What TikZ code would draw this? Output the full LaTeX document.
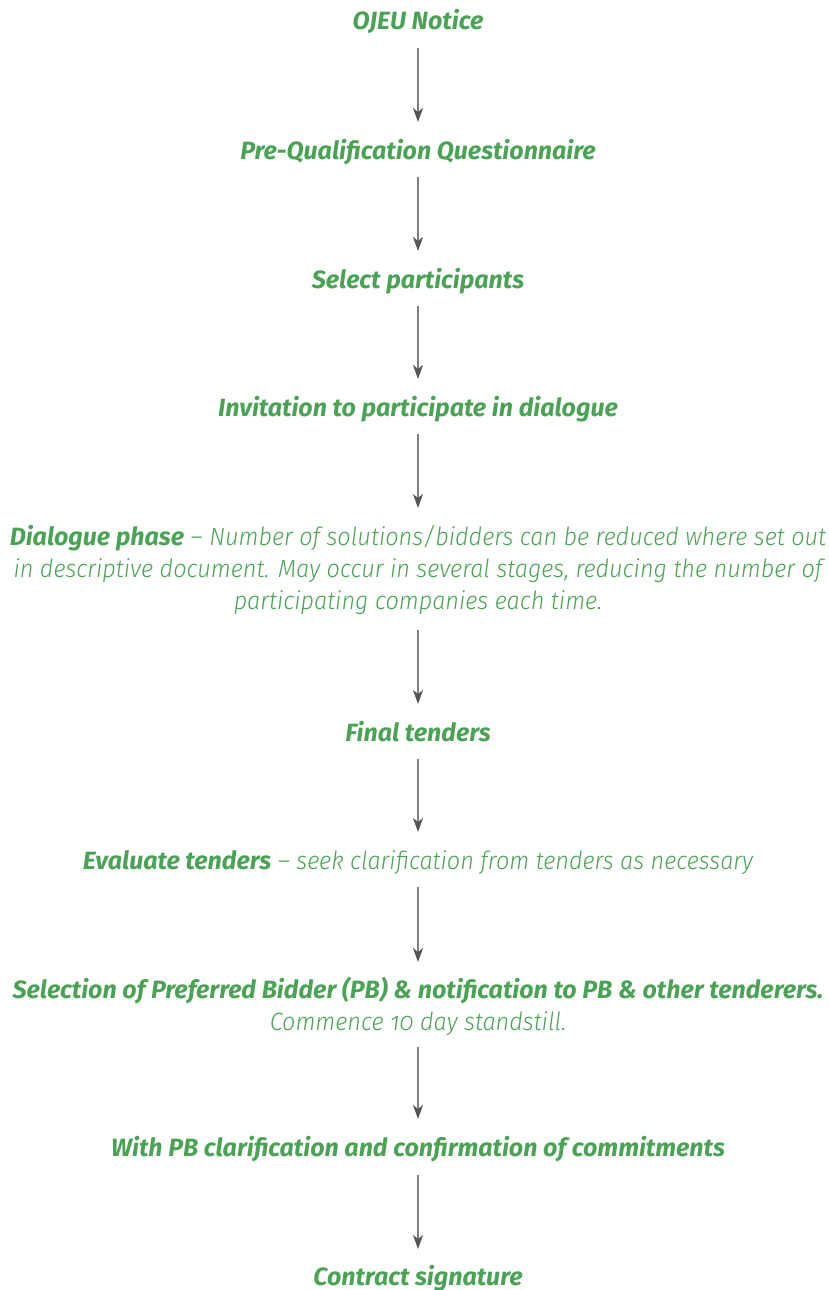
\documentclass[tikz,border=0pt]{standalone}
\usepackage{fontspec}
\setmainfont{Fira Sans}[Numbers=OldStyle]
\newfontfamily\bfit{Fira Sans Bold Italic}[Numbers=OldStyle]
\newfontfamily\ltit{Fira Sans Light Italic}[FakeStretch=0.94,Numbers=OldStyle]
\usetikzlibrary{arrows.meta}
\definecolor{leaf}{RGB}{74,163,84}
\definecolor{shaft}{RGB}{128,128,130}
\definecolor{tipc}{RGB}{85,85,90}
\tikzset{
  stage/.style={text=leaf, inner sep=0pt, anchor=base, align=center, font=\fontsize{25}{32}\selectfont},
  arr/.style={draw=shaft, line width=1.4pt, -{Stealth[length=14pt,width=10pt,inset=4pt,color=tipc]}}
}
\newcommand{\bpart}[1]{{\bfit #1}}
\newcommand{\lpart}[1]{{\ltit #1}}
\begin{document}
\begin{tikzpicture}[x=1pt,y=-1pt]
\useasboundingbox (0,0) rectangle (829,1290);
\node[stage] (n1) at (418,30) {\bpart{OJEU Notice}};
\node[stage] (n2) at (418,159) {\bpart{Pre-Qualification Questionnaire}};
\node[stage] (n3) at (418,288) {\bpart{Select participants}};
\node[stage] (n4) at (418,416) {\bpart{Invitation to participate in dialogue}};
\node[stage] (n5) at (418,609) {\bpart{Dialogue phase} \lpart{– Number of solutions/bidders can be reduced where set out}\\
\lpart{in descriptive document. May occur in several stages, reducing the number of}\\
\lpart{participating companies each time.}};
\node[stage] (n6) at (418,741) {\bpart{Final tenders}};
\node[stage] (n7) at (418,869) {\bpart{Evaluate tenders} \lpart{– seek clarification from tenders as necessary}};
\node[stage] (n8) at (418,1030) {\bpart{Selection of Preferred Bidder (PB) \& notification to PB \& other tenderers.}\\
\lpart{Commence 10 day standstill.}};
\node[stage] (n9) at (418,1156) {\bpart{With PB clarification and confirmation of commitments}};
\node[stage] (n10) at (418,1285) {\bpart{Contract signature}};
\draw[arr] ([yshift=-18pt]n1.base) -- ([yshift=37pt]n2.base);
\draw[arr] ([yshift=-18pt]n2.base) -- ([yshift=37pt]n3.base);
\draw[arr] ([yshift=-18pt]n3.base) -- ([yshift=37pt]n4.base);
\draw[arr] ([yshift=-18pt]n4.base) -- ([yshift=101pt]n5.base);
\draw[arr] ([yshift=-21pt]n5.base) -- ([yshift=37pt]n6.base);
\draw[arr] ([yshift=-18pt]n6.base) -- ([yshift=37pt]n7.base);
\draw[arr] ([yshift=-18pt]n7.base) -- ([yshift=68pt]n8.base);
\draw[arr] ([yshift=-17pt]n8.base) -- ([yshift=37pt]n9.base);
\draw[arr] ([yshift=-19pt]n9.base) -- ([yshift=36pt]n10.base);
\end{tikzpicture}
\end{document}
